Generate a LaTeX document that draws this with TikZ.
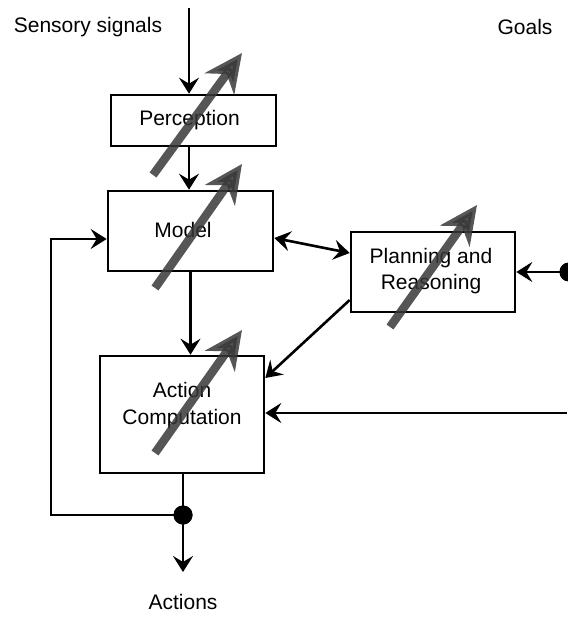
\documentclass[tikz,border=0pt]{standalone}
\usepackage{fontspec}
\setmainfont{Liberation Sans}
\usetikzlibrary{arrows.meta}
\begin{document}
\begin{tikzpicture}[x=1pt,y=-1pt,
  box/.style={draw,line width=2.6pt,inner sep=0pt},
  lbl/.style={font=\fontsize{21}{26.5}\selectfont,align=center,inner sep=0pt},
  conn/.style={line width=2.6pt,-{Stealth[length=16pt,width=20pt,inset=6pt]}},
  wire/.style={line width=2.6pt},
  dot/.style={circle,fill=black,inner sep=0pt,minimum size=19pt},
  garrow/.style={line width=8.5pt,draw=black!78,opacity=0.85,
    -{Stealth[length=38pt,width=36pt,inset=12pt]}}]
\useasboundingbox (0,0) rectangle (567,617);

% boxes
\node[box,minimum width=165pt,minimum height=51pt] (perc) at (193.5,120.5) {};
\node[box,minimum width=165pt,minimum height=80pt] (model) at (190.5,231) {};
\node[box,minimum width=164pt,minimum height=80pt] (plan) at (433,272) {};
\node[box,minimum width=164pt,minimum height=117pt] (act) at (182,414.5) {};

% texts
\node[lbl,anchor=base] (tperc) at (189.5,126) {Perception};
\node[lbl,anchor=base] (tmodel) at (183,237) {Model};
\node[lbl] (tplan) at (431,271) {Planning and\\Reasoning};
\node[lbl] (tact) at (182,405.5) {Action\\Computation};
\node[lbl] (tsens) at (88,27) {Sensory signals};
\node[lbl] (tgoals) at (525,27) {Goals};
\node[lbl,anchor=base] (tactions) at (183,609) {Actions};

% free ends
\coordinate (sin) at (189,8);
\coordinate (gin) at (567,413);
\coordinate (fb) at (51,515);
\coordinate (aout) at (183,572);
\coordinate (m1) at ([yshift=-7pt]model.east);
\coordinate (p1) at ([yshift=19pt]plan.west);
\coordinate (p2) at ([yshift=-28pt]plan.west);
\coordinate (a1) at ([yshift=36.5pt]act.east);
\coordinate (mw) at ([yshift=-8pt]model.west);

% dots
\node[dot] (gdot) at (569,272) {};
\node[dot] (bdot) at (183,515) {};

% connectors
\draw[conn] (sin) -- (sin |- perc.north);
\draw[conn] (perc.south -| sin) -- (sin |- model.north);
\draw[conn] (model.south) -- (model.south |- act.north);
\draw[wire,{Stealth[length=16pt,width=20pt,inset=6pt]}-{Stealth[length=16pt,width=20pt,inset=6pt]}] (m1) -- (p1);
\draw[conn] (p2) -- (a1);
\draw[conn] (gin) -- (gin -| act.east);
\draw[conn] (gdot.center) -- (plan.east);
\draw[wire] (act.south -| bdot) -- (bdot.center);
\draw[conn] (bdot.center) -- (aout);
\draw[conn] (bdot.center) -- (fb) |- (mw);
\node[dot] at (gdot) {};
\node[dot] at (bdot) {};

% gray arrows
\draw[garrow] (153,175) -- (242,53);
\draw[garrow] (155,288) -- (242,164);
\draw[garrow] (390,327) -- (477,205);
\draw[garrow] (155,453) -- (242,330);
\end{tikzpicture}
\end{document}
